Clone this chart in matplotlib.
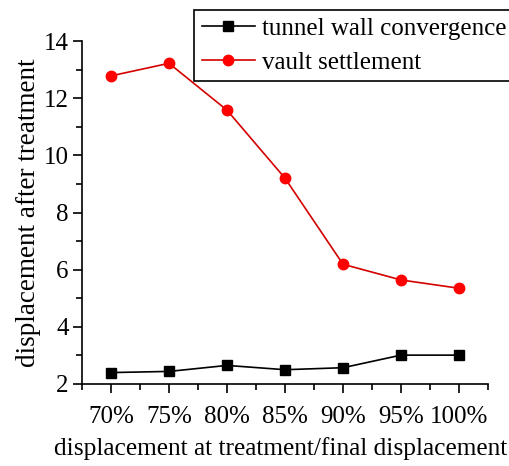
import matplotlib
matplotlib.use("Agg")
import matplotlib.pyplot as plt
from matplotlib.ticker import MultipleLocator

plt.rcParams["font.family"] = ["Liberation Serif", "DejaVu Serif"]

# ratio of displacement at treatment to final displacement
categories = ["70%", "75%", "80%", "85%", "90%", "95%", "100%"]
wall_convergence = [2.40, 2.44, 2.65, 2.50, 2.57, 3.01, 3.01]
vault_settlement = [12.78, 13.22, 11.58, 9.20, 6.19, 5.64, 5.35]

W, H = 509, 466
fig = plt.figure(figsize=(W / 100, H / 100), dpi=100)
ax = fig.add_axes([82 / W, 1 - 384 / H, (488 - 82) / W, (384 - 41) / H])

xs = list(range(len(categories)))
ax.plot(xs, wall_convergence, color="black", linewidth=1.2, marker="s",
        markersize=7, label="tunnel wall convergence")
ax.plot(xs, vault_settlement, color="#d40000", linewidth=1.2, marker="o",
        markersize=7.5, markerfacecolor="red", markeredgecolor="red",
        label="vault settlement")

ax.set_xlim(-0.5, 6.5)
ax.set_ylim(2, 14)
ax.set_xticks(xs)
ax.set_xticklabels(categories)
ax.xaxis.set_minor_locator(MultipleLocator(0.5))
ax.yaxis.set_major_locator(MultipleLocator(2))
ax.yaxis.set_minor_locator(MultipleLocator(1))
ax.tick_params(axis="both", which="major", direction="out", length=6.5,
               width=1.2, labelsize=18)
ax.tick_params(axis="both", which="minor", direction="out", length=4,
               width=1.2)
ax.tick_params(axis="x", pad=9)
ax.tick_params(axis="y", pad=3)

for side in ("top", "right"):
    ax.spines[side].set_visible(False)
for side in ("left", "bottom"):
    ax.spines[side].set_linewidth(1.2)

ax.set_xlabel("displacement at treatment/final displacement", fontsize=18.3,
              labelpad=7)
# the original label sits a little left of the axes centre
ax.xaxis.label.set_x(0.489)
ax.set_ylabel("displacement after treatment", fontsize=19.5, labelpad=2)

leg = fig.legend(loc="upper left", bbox_to_anchor=(194 / W, 1 - 10 / H),
                 fontsize=18, frameon=True, fancybox=False, framealpha=1,
                 edgecolor="black", handlelength=2.15, handletextpad=0.25,
                 borderpad=0.3, labelspacing=0.45, borderaxespad=0)
leg.get_frame().set_linewidth(1.2)

fig.savefig("out.png", dpi=100)
